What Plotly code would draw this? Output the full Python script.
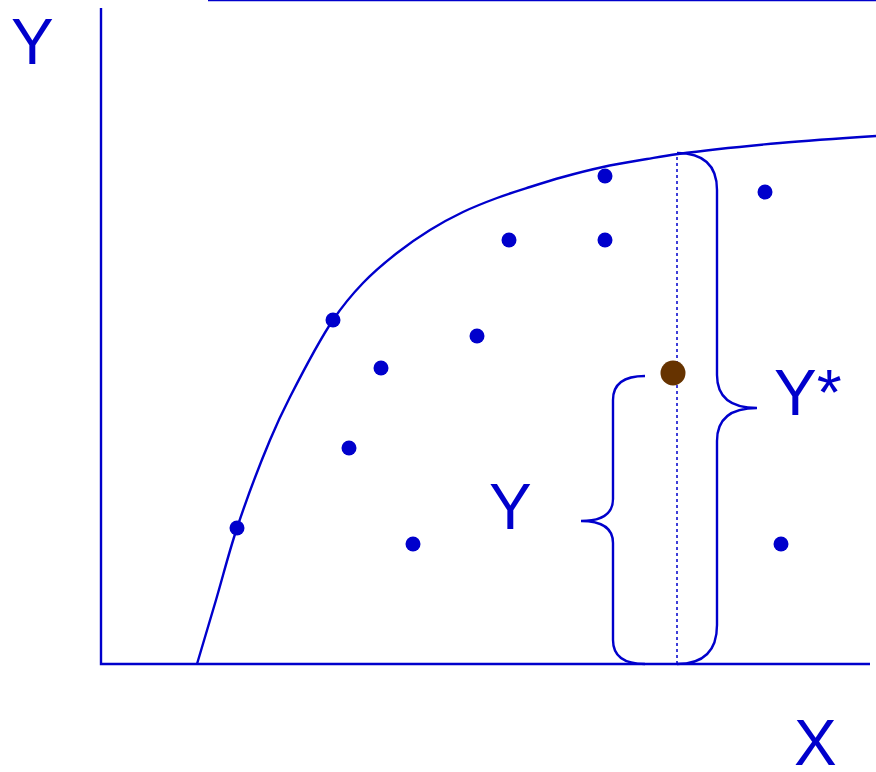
import plotly.graph_objects as go

BLUE = "#0000CC"
BROWN = "#663300"

# frontier curve (x, y), origin at the axes corner
curve_x = [96, 115, 136, 169, 189, 232, 262, 296, 329, 362, 396, 429, 462, 502, 546, 577, 679, 775]
curve_y = [0, 64, 136, 224, 267, 344, 381, 411, 434, 452, 466, 477, 487, 497, 505, 510, 521, 528]

# observed units
dots_x = [136, 232, 280, 248, 312, 376, 408, 504, 504, 664, 680]
dots_y = [136, 344, 296, 216, 120, 328, 424, 424, 488, 472, 120]

# highlighted unit
unit_x = [572]
unit_y = [291]

# braces: (end x, stem x, tip x, top y, tip y, bottom y)
brace_y = (544, 512, 480, 288, 143, 0)
brace_ystar = (576, 616, 656, 511, 256, 0)


def brace_path(end, stem, tip, top, mid, bot, r_top, r_mid, r_bot):
    return (f"M {end},{top} Q {stem},{top} {stem},{top - r_top} "
            f"L {stem},{mid + r_mid} Q {stem},{mid} {tip},{mid} "
            f"Q {stem},{mid} {stem},{mid - r_mid} "
            f"L {stem},{bot + r_bot} Q {stem},{bot} {end},{bot}")


LW = 2.4
fig = go.Figure()

# axes
fig.add_trace(go.Scatter(x=[0, 0, 769], y=[656, 0, 0], mode="lines",
                         line=dict(color=BLUE, width=LW), hoverinfo="skip"))
# top edge line
fig.add_trace(go.Scatter(x=[107, 775], y=[664, 664], mode="lines",
                         line=dict(color=BLUE, width=LW), hoverinfo="skip"))
# frontier
fig.add_trace(go.Scatter(x=curve_x, y=curve_y, mode="lines",
                         line=dict(color=BLUE, width=LW, shape="spline", smoothing=1.0),
                         hoverinfo="skip"))
# dotted drop line
fig.add_trace(go.Scatter(x=[576, 576], y=[0, 511], mode="lines",
                         line=dict(color=BLUE, width=1.5, dash="dot"), hoverinfo="skip"))
fig.add_trace(go.Scatter(x=dots_x, y=dots_y, mode="markers",
                         marker=dict(color=BLUE, size=15)))
fig.add_trace(go.Scatter(x=unit_x, y=unit_y, mode="markers",
                         marker=dict(color=BROWN, size=25)))

e, s, t, top, mid, bot = brace_y
fig.add_shape(type="path", xref="x", yref="y",
              path=brace_path(e, s, t, top, mid, bot, 24, 22, 24),
              line=dict(color=BLUE, width=LW))
e, s, t, top, mid, bot = brace_ystar
fig.add_shape(type="path", xref="x", yref="y",
              path=brace_path(e, s, t, top, mid, bot, 37, 33, 39),
              line=dict(color=BLUE, width=LW))

font = dict(family="Liberation Sans, Arial", size=64, color=BLUE)
labels = [("Y", -69, 622), ("X", 714, -79), ("Y", 409, 157), ("Y*", 707, 271)]
for txt, lx, ly in labels:
    fig.add_annotation(x=lx, y=ly, text=txt, showarrow=False, font=font,
                       xanchor="center", yanchor="middle")

fig.update_layout(
    width=876, height=772,
    margin=dict(l=0, r=0, t=0, b=0),
    paper_bgcolor="white", plot_bgcolor="white",
    showlegend=False,
    xaxis=dict(range=[-101, 775], visible=False, fixedrange=True),
    yaxis=dict(range=[-108, 664], visible=False, fixedrange=True),
)

fig.write_html("out.html", config={"displayModeBar": False},
               post_script="document.body.style.margin='0';")
